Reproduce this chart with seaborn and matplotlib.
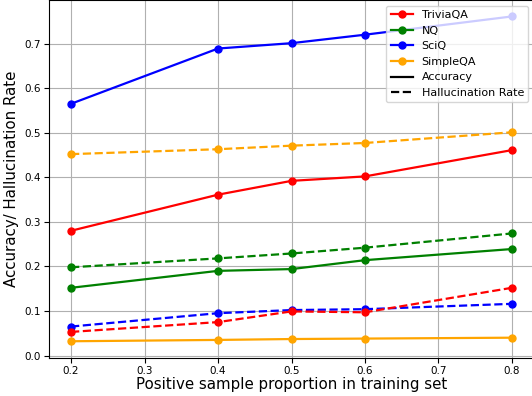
import pandas as pd
import seaborn as sns
import matplotlib.pyplot as plt
from matplotlib.lines import Line2D

# Values
proportions = [0.2, 0.4, 0.5, 0.6, 0.8]
datasets = ['TriviaQA', 'NQ', 'SciQ', 'SimpleQA']
colors = ['red', 'green', 'blue', 'orange']

trivia_acc = [0.280, 0.361, 0.392, 0.402, 0.461]
trivia_hall = [0.053, 0.075, 0.099, 0.097, 0.152]
nq_acc = [0.152, 0.190, 0.194, 0.214, 0.239]
nq_hall = [0.198, 0.218, 0.229, 0.242, 0.274]
sciq_acc = [0.565, 0.689, 0.701, 0.720, 0.761]
sciq_hall = [0.065, 0.095, 0.102, 0.104, 0.116]
simple_acc = [0.032, 0.035, 0.037, 0.038, 0.040]
simple_hall = [0.452, 0.463, 0.471, 0.477, 0.501]

acc = {'TriviaQA': trivia_acc, 'NQ': nq_acc, 'SciQ': sciq_acc, 'SimpleQA': simple_acc}
hall = {'TriviaQA': trivia_hall, 'NQ': nq_hall, 'SciQ': sciq_hall, 'SimpleQA': simple_hall}

# Long-form table
rows = []
for name in datasets:
    for p, a, h in zip(proportions, acc[name], hall[name]):
        rows.append({'dataset': name, 'proportion': p, 'metric': 'Accuracy', 'value': a})
        rows.append({'dataset': name, 'proportion': p, 'metric': 'Hallucination Rate', 'value': h})
df = pd.DataFrame(rows)

fig = plt.figure(figsize=(5.32, 3.96), dpi=100)
ax = fig.add_axes([49 / 532, 38.5 / 396, 485 / 532, 357.3 / 396])

# draw in reverse so TriviaQA ends up on top
for name, color in reversed(list(zip(datasets, colors))):
    for metric, ls in [('Accuracy', '-'), ('Hallucination Rate', '--')]:
        sub = df[(df['dataset'] == name) & (df['metric'] == metric)]
        sns.lineplot(data=sub, x='proportion', y='value', ax=ax, color=color,
                     linestyle=ls, marker='o', markersize=5, linewidth=1.6,
                     markeredgecolor=color, markeredgewidth=1)

ax.grid(True, color='#b0b0b0', linewidth=0.8)
ax.tick_params(labelsize=7.5, pad=2.5)
ax.set_xlabel('Positive sample proportion in training set', fontsize=10.8, labelpad=1)
ax.set_ylabel('Accuracy/ Hallucination Rate', fontsize=10.8, labelpad=4)

handles = [Line2D([0], [0], color=c, marker='o', markersize=5, linewidth=1.6, label=n)
           for n, c in zip(datasets, colors)]
handles.append(Line2D([0], [0], color='black', linestyle='-', linewidth=1.6, label='Accuracy'))
handles.append(Line2D([0], [0], color='black', linestyle='--', linewidth=1.6, label='Hallucination Rate'))
ax.legend(handles=handles, loc='upper right', fontsize=8)

fig.savefig('out.png', dpi=100)
